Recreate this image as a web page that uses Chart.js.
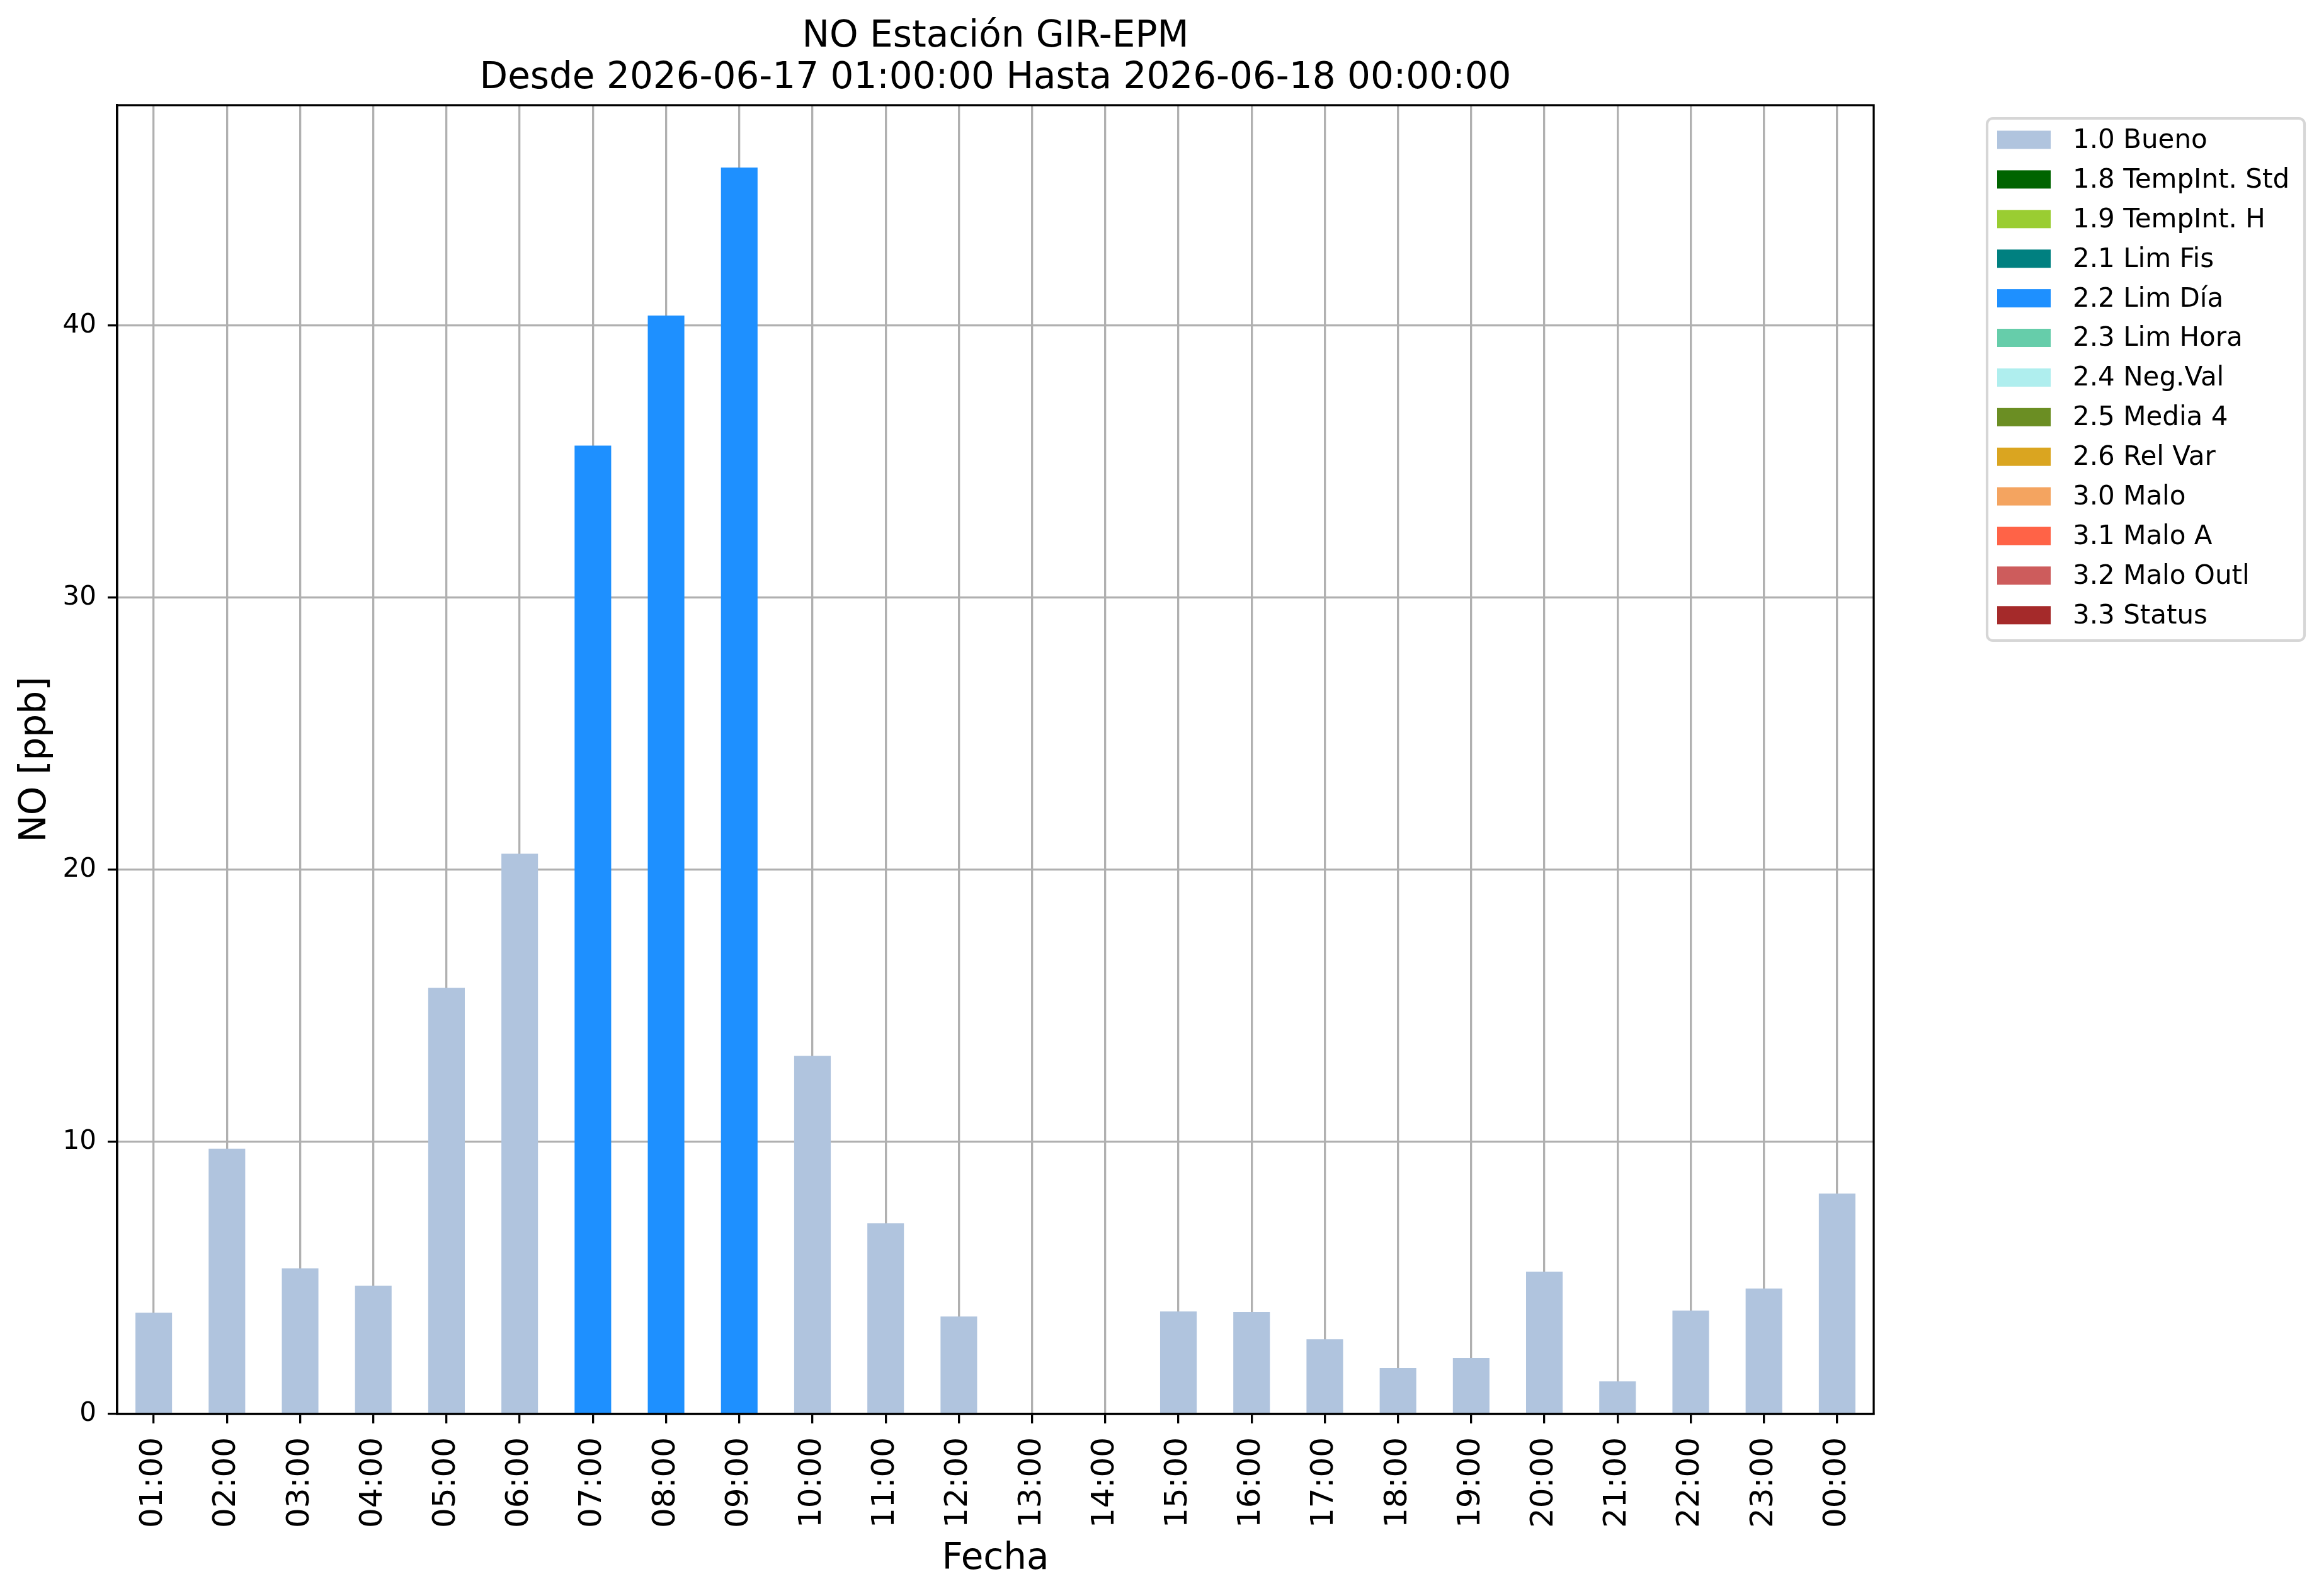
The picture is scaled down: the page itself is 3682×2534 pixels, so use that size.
<!DOCTYPE html>
<html>
<head>
<meta charset="utf-8">
<title>NO Estación GIR-EPM</title>
<script src="https://cdn.jsdelivr.net/npm/chart.js@4.4.1/dist/chart.umd.min.js"></script>
<style>
    html, body { margin: 0; padding: 0; background: #fff; overflow: hidden; }
    #noChart { display: block; }
</style>
</head>
<body>
<canvas id="noChart" width="3682" height="2534" style="width:3682px;height:2534px"></canvas>
<script>
// Hours shown on the x axis
const hours = ['01:00', '02:00', '03:00', '04:00', '05:00', '06:00', '07:00', '08:00',
    '09:00', '10:00', '11:00', '12:00', '13:00', '14:00', '15:00', '16:00',
    '17:00', '18:00', '19:00', '20:00', '21:00', '22:00', '23:00', '00:00'];

// NO concentration per hour [ppb] (13:00 and 14:00 have no data)
const noValues = [3.72, 9.75, 5.35, 4.71, 15.66, 20.59, 35.59, 40.37,
    45.81, 13.16, 7.01, 3.58, null, null, 3.77, 3.75,
    2.75, 1.69, 2.06, 5.23, 1.20, 3.80, 4.61, 8.10];

// Validation flag of each hour
const hourFlags = ['1.0', '1.0', '1.0', '1.0', '1.0', '1.0', '2.2', '2.2',
    '2.2', '1.0', '1.0', '1.0', '1.0', '1.0', '1.0', '1.0',
    '1.0', '1.0', '1.0', '1.0', '1.0', '1.0', '1.0', '1.0'];

// Flag codes, legend labels and colours
const flagCodes = ['1.0', '1.8', '1.9', '2.1', '2.2', '2.3', '2.4', '2.5', '2.6', '3.0', '3.1', '3.2', '3.3'];
const flagNames = ['Bueno', 'TempInt. Std', 'TempInt. H', 'Lim Fis', 'Lim Día', 'Lim Hora',
    'Neg.Val', 'Media 4', 'Rel Var', 'Malo', 'Malo A', 'Malo Outl', 'Status'];
const flagColors = ['#b0c4de', '#006400', '#9acd32', '#008080', '#1e90ff', '#66cdaa',
    '#afeeee', '#6b8e23', '#daa520', '#f4a460', '#ff6347', '#cd5c5c', '#a52a2a'];

const yTicks = [0, 10, 20, 30, 40];
const yMax = 48.1;

const FONT = "'DejaVu Sans', 'Liberation Sans', sans-serif";
const LW = 3.3;

// one dataset per flag, only the hours that carry that flag
const datasets = flagCodes.map((code, k) => ({
    label: code + ' ' + flagNames[k],
    data: noValues.map((v, i) => hourFlags[i] === code ? v : null),
    backgroundColor: flagColors[k],
    borderWidth: 0,
    barPercentage: 0.5,
    categoryPercentage: 1.0
}));

// frame round the plot area (top and right spines)
const framePlugin = {
    id: 'frame',
    afterDraw(chart) {
        const {ctx, chartArea: a} = chart;
        ctx.save();
        ctx.strokeStyle = '#000';
        ctx.lineWidth = LW;
        ctx.strokeRect(a.left, a.top, a.right - a.left, a.bottom - a.top);
        ctx.restore();
    }
};

// matplotlib-like legend placed to the right of the axes
const sideLegend = {
    id: 'sideLegend',
    afterDraw(chart) {
        const ctx = chart.ctx;
        const x0 = 3155, y0 = 188, w = 504, h = 829, r = 9;
        ctx.save();
        ctx.beginPath();
        ctx.roundRect(x0, y0, w, h, r);
        ctx.fillStyle = 'rgba(255,255,255,0.8)';
        ctx.fill();
        ctx.strokeStyle = '#d6d6d6';
        ctx.lineWidth = 4.2;
        ctx.stroke();

        ctx.font = '42px ' + FONT;
        ctx.textBaseline = 'middle';
        ctx.textAlign = 'left';
        chart.data.datasets.forEach((ds, i) => {
            const cy = 222 + i * 62.9;
            ctx.fillStyle = ds.backgroundColor;
            ctx.fillRect(3171, cy - 14.5, 85, 29);
            ctx.fillStyle = '#000';
            ctx.fillText(ds.label, 3291, cy + 2);
        });
        ctx.restore();
    }
};

const ctx = document.getElementById('noChart').getContext('2d');
new Chart(ctx, {
    type: 'bar',
    data: {
        labels: hours,
        datasets: datasets
    },
    plugins: [framePlugin, sideLegend],
    options: {
        responsive: false,
        animation: false,
        devicePixelRatio: 1,
        layout: {
            padding: {left: 0, right: 707, top: 0, bottom: 0}
        },
        plugins: {
            legend: {display: false},
            tooltip: {enabled: false},
            title: {
                display: true,
                fullSize: false,
                text: ['NO Estación GIR-EPM', 'Desde 2026-06-17 01:00:00 Hasta 2026-06-18 00:00:00'],
                color: '#000',
                font: {family: FONT, size: 58, weight: 'normal', lineHeight: 1.138},
                padding: {top: 26, bottom: 9}
            }
        },
        scales: {
            x: {
                stacked: true,
                offset: true,
                z: 1,
                grid: {
                    offset: false,
                    color: '#b0b0b0',
                    lineWidth: LW,
                    tickColor: '#000',
                    tickLength: 15,
                    tickWidth: LW
                },
                border: {display: true, color: '#000', width: LW},
                ticks: {
                    autoSkip: false,
                    maxRotation: 90,
                    minRotation: 90,
                    padding: 22,
                    color: '#000',
                    font: {family: FONT, size: 50}
                },
                title: {
                    display: true,
                    text: 'Fecha',
                    color: '#000',
                    font: {family: FONT, size: 58},
                    padding: {top: 0, bottom: 23}
                },
                afterFit(scale) { scale.height = 289; }
            },
            y: {
                stacked: true,
                min: 0,
                max: yMax,
                z: 1,
                afterBuildTicks(scale) {
                    scale.ticks = yTicks.map(v => ({value: v}));
                },
                grid: {
                    color: '#b0b0b0',
                    lineWidth: LW,
                    tickColor: '#000',
                    tickLength: 15,
                    tickWidth: LW
                },
                border: {display: true, color: '#000', width: LW},
                ticks: {
                    padding: 18,
                    color: '#000',
                    font: {family: FONT, size: 42}
                },
                title: {
                    display: true,
                    text: 'NO [ppb]',
                    color: '#000',
                    font: {family: FONT, size: 58},
                    padding: {top: 22, bottom: 0}
                },
                afterFit(scale) { scale.width = 186; }
            }
        }
    }
});
</script>
</body>
</html>
